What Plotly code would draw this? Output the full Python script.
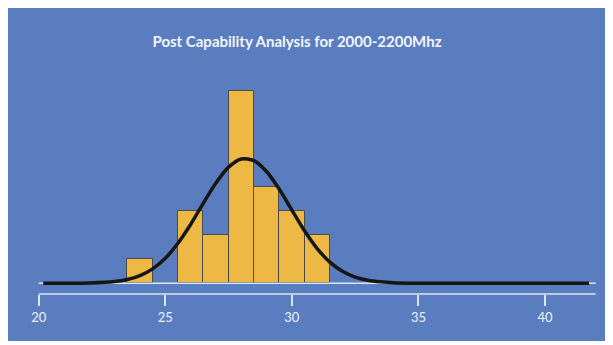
import plotly.graph_objects as go

# Histogram data (bin centers, counts)
bin_centers = [24, 26, 27, 28, 29, 30, 31]
bin_counts = [1, 3, 2, 8, 4, 3, 2]

# Fitted normal curve (x, height in counts)
curve_x = [20.18, 21.0, 22.0, 23.0, 23.5, 24.0, 24.5, 25.0, 25.5, 26.0, 26.5, 27.0,
           27.5, 28.0, 28.5, 29.0, 29.5, 30.0, 30.5, 31.0, 31.5, 32.0, 32.5, 33.0,
           33.5, 34.0, 35.0, 38.0, 41.74]
curve_y = [0.0, 0.0, 0.01, 0.07, 0.16, 0.32, 0.60, 1.04, 1.66, 2.44, 3.32, 4.16,
           4.82, 5.16, 5.09, 4.64, 3.91, 3.04, 2.18, 1.44, 0.88, 0.50, 0.26, 0.13,
           0.06, 0.02, 0.0, 0.0, 0.0]

tick_vals = [20, 25, 30, 35, 40]
tick_text = ["20", "25", "30", "35", "40"]
axis_start, axis_end = 20, 42

title_text = "Post Capability Analysis for 2000-2200Mhz"

BLUE = "#5A7DC0"
GOLD = "#EDB944"
LIGHT = "#DCE5F4"
FONT = "Lato, Roboto, sans-serif"

fig = go.Figure()

# baseline
fig.add_trace(go.Scatter(x=[axis_start, axis_end], y=[0, 0], mode="lines",
                         line=dict(color=LIGHT, width=1.5), hoverinfo="skip",
                         showlegend=False))

fig.add_trace(go.Bar(x=bin_centers, y=bin_counts, width=1,
                     marker=dict(color=GOLD, line=dict(color="#4A4A4A", width=1)),
                     showlegend=False))

fig.add_trace(go.Scatter(x=curve_x, y=curve_y, mode="lines",
                         line=dict(color="#161616", width=3.5, shape="spline", smoothing=0.8),
                         showlegend=False))

# The page body has an 8px margin (white), which plays the role of the white torn edge.
OFF = 8
W, H = 600, 333
ml, mr, mt, mb = 22, 8, 52, 47
px_per_unit = 25.315
tick20_px = 38.7 - OFF
x0 = 20 - (tick20_px - ml) / px_per_unit
x1 = 20 + (W - mr - tick20_px) / px_per_unit
py_per_count = 24.1
y_base = 283.3 - OFF
y0 = -((H - mb) - y_base) / py_per_count
y1 = (y_base - mt) / py_per_count

fig.update_layout(
    width=W, height=H,
    margin=dict(l=ml, r=mr, t=mt, b=mb, pad=0),
    paper_bgcolor=BLUE,
    plot_bgcolor="rgba(0,0,0,0)",
    bargap=0,
    title=dict(text=title_text, x=(297 - OFF) / W, xanchor="center", xref="container",
               y=1 - (41.5 - OFF) / H, yanchor="middle", yref="container",
               font=dict(family=FONT, size=15, color="#F2F5FB", weight="bold")),
    xaxis=dict(range=[x0, x1], showgrid=False, zeroline=False, showline=False,
               tickmode="array", tickvals=tick_vals, ticktext=tick_text,
               ticks="outside", ticklen=11, tickwidth=1.5, tickcolor=LIGHT,
               tickfont=dict(family=FONT, size=13, color="#EEF2FA")),
    yaxis=dict(range=[y0, y1], visible=False, showgrid=False, zeroline=False),
    shapes=[
        dict(type="line", xref="x", yref="paper", x0=axis_start, x1=axis_end, y0=0, y1=0,
             line=dict(color=LIGHT, width=1.5)),
    ],
)

fig.write_html("out.html")
